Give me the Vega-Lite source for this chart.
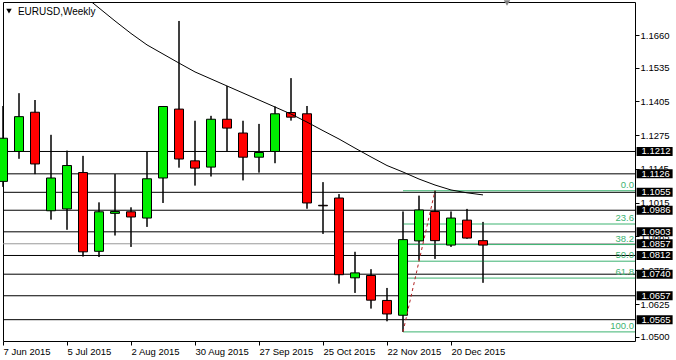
{
  "$schema": "https://vega.github.io/schema/vega-lite/v6.json",
  "width": 632,
  "height": 339,
  "autosize": "none",
  "padding": {"left": 3, "top": 2, "right": 41, "bottom": 19},
  "background": "white",
  "datasets": {
    "candles": [
      {"date": "2015-06-07", "open": 1.1097, "high": 1.1387, "low": 1.1076, "close": 1.1263},
      {"date": "2015-06-14", "open": 1.1212, "high": 1.1436, "low": 1.1184, "close": 1.1346},
      {"date": "2015-06-21", "open": 1.1363, "high": 1.1410, "low": 1.1125, "close": 1.1164},
      {"date": "2015-06-28", "open": 1.0984, "high": 1.1276, "low": 1.0950, "close": 1.1110},
      {"date": "2015-07-05", "open": 1.0991, "high": 1.1215, "low": 1.0911, "close": 1.1158},
      {"date": "2015-07-12", "open": 1.1131, "high": 1.1195, "low": 1.0808, "close": 1.0826},
      {"date": "2015-07-19", "open": 1.0828, "high": 1.1016, "low": 1.0806, "close": 1.0980},
      {"date": "2015-07-26", "open": 1.0974, "high": 1.1125, "low": 1.0889, "close": 1.0981},
      {"date": "2015-08-02", "open": 1.0980, "high": 1.0997, "low": 1.0845, "close": 1.0960},
      {"date": "2015-08-09", "open": 1.0956, "high": 1.1210, "low": 1.0922, "close": 1.1107},
      {"date": "2015-08-16", "open": 1.1110, "high": 1.1387, "low": 1.1014, "close": 1.1385},
      {"date": "2015-08-23", "open": 1.1375, "high": 1.1714, "low": 1.1150, "close": 1.1183},
      {"date": "2015-08-30", "open": 1.1176, "high": 1.1330, "low": 1.1081, "close": 1.1148},
      {"date": "2015-09-06", "open": 1.1152, "high": 1.1349, "low": 1.1116, "close": 1.1336},
      {"date": "2015-09-13", "open": 1.1336, "high": 1.1464, "low": 1.1212, "close": 1.1302},
      {"date": "2015-09-20", "open": 1.1283, "high": 1.1330, "low": 1.1101, "close": 1.1190},
      {"date": "2015-09-27", "open": 1.1190, "high": 1.1318, "low": 1.1131, "close": 1.1208},
      {"date": "2015-10-04", "open": 1.1212, "high": 1.1385, "low": 1.1167, "close": 1.1357},
      {"date": "2015-10-11", "open": 1.1362, "high": 1.1494, "low": 1.1331, "close": 1.1344},
      {"date": "2015-10-18", "open": 1.1357, "high": 1.1387, "low": 1.0992, "close": 1.1014},
      {"date": "2015-10-25", "open": 1.1005, "high": 1.1094, "low": 1.0895, "close": 1.1003},
      {"date": "2015-11-01", "open": 1.1033, "high": 1.1048, "low": 1.0704, "close": 1.0738},
      {"date": "2015-11-08", "open": 1.0726, "high": 1.0826, "low": 1.0668, "close": 1.0745},
      {"date": "2015-11-15", "open": 1.0735, "high": 1.0759, "low": 1.0608, "close": 1.0640},
      {"date": "2015-11-22", "open": 1.0639, "high": 1.0687, "low": 1.0559, "close": 1.0587},
      {"date": "2015-11-29", "open": 1.0582, "high": 1.0981, "low": 1.0518, "close": 1.0873},
      {"date": "2015-12-06", "open": 1.0868, "high": 1.1042, "low": 1.0793, "close": 1.0987},
      {"date": "2015-12-13", "open": 1.0981, "high": 1.1061, "low": 1.0799, "close": 1.0869},
      {"date": "2015-12-20", "open": 1.0852, "high": 1.0981, "low": 1.0845, "close": 1.0956},
      {"date": "2015-12-27", "open": 1.0948, "high": 1.0991, "low": 1.0876, "close": 1.0879},
      {"date": "2016-01-03", "open": 1.0869, "high": 1.0941, "low": 1.0707, "close": 1.0852}
    ],
    "ma": [
      {"date": "2015-07-05", "ma": 1.1862},
      {"date": "2015-07-12", "ma": 1.1814},
      {"date": "2015-07-19", "ma": 1.1764},
      {"date": "2015-07-26", "ma": 1.1714},
      {"date": "2015-08-02", "ma": 1.1666},
      {"date": "2015-08-09", "ma": 1.1622},
      {"date": "2015-08-16", "ma": 1.1587},
      {"date": "2015-08-23", "ma": 1.1552},
      {"date": "2015-08-30", "ma": 1.1518},
      {"date": "2015-09-06", "ma": 1.1491},
      {"date": "2015-09-13", "ma": 1.1464},
      {"date": "2015-09-20", "ma": 1.1437},
      {"date": "2015-09-27", "ma": 1.1410},
      {"date": "2015-10-04", "ma": 1.1383},
      {"date": "2015-10-11", "ma": 1.1356},
      {"date": "2015-10-18", "ma": 1.1325},
      {"date": "2015-10-25", "ma": 1.1292},
      {"date": "2015-11-01", "ma": 1.1260},
      {"date": "2015-11-08", "ma": 1.1225},
      {"date": "2015-11-15", "ma": 1.1191},
      {"date": "2015-11-22", "ma": 1.1158},
      {"date": "2015-11-29", "ma": 1.1133},
      {"date": "2015-12-06", "ma": 1.1106},
      {"date": "2015-12-13", "ma": 1.1083},
      {"date": "2015-12-20", "ma": 1.1064},
      {"date": "2015-12-27", "ma": 1.1053},
      {"date": "2016-01-03", "ma": 1.1045}
    ],
    "levels": [
      {"level": 1.1212}, {"level": 1.1126}, {"level": 1.1055}, {"level": 1.0986}, {"level": 1.0903},
      {"level": 1.0812}, {"level": 1.0740}, {"level": 1.0657}, {"level": 1.0565}
    ],
    "bid": [{"level": 1.0857}],
    "boxes": [
      {"level": 1.1212}, {"level": 1.1126}, {"level": 1.1055}, {"level": 1.0986}, {"level": 1.0903},
      {"level": 1.0857}, {"level": 1.0812}, {"level": 1.0740}, {"level": 1.0657}, {"level": 1.0565}
    ],
    "fib": [
      {"label": "0.0", "value": 1.1061, "start": "2015-11-29"},
      {"label": "23.6", "value": 1.0933, "start": "2015-11-29"},
      {"label": "38.2", "value": 1.0854, "start": "2015-11-29"},
      {"label": "50.0", "value": 1.0790, "start": "2015-11-29"},
      {"label": "61.8", "value": 1.0725, "start": "2015-11-29"},
      {"label": "100.0", "value": 1.0518, "start": "2015-11-29"}
    ],
    "trend": [
      {"date": "2015-11-29", "price": 1.0518},
      {"date": "2015-12-13", "price": 1.1061}
    ],
    "caption": [{"text": "EURUSD,Weekly"}]
  },
  "layer": [
    {
      "data": {"name": "candles"},
      "mark": {"type": "rule", "color": "black", "strokeWidth": 1},
      "encoding": {
        "x": {
          "field": "date", "type": "temporal",
          "scale": {"type": "utc", "padding": 0, "nice": false, "domain": [{"year": 2015, "month": 6, "date": 7, "utc": true}, {"year": 2016, "month": 3, "date": 9, "hours": 12, "utc": true}]},
          "axis": {
            "title": null, "format": "%-d %b %Y", "orient": "bottom", "tickCount": 40,
            "values": [
              {"year": 2015, "month": 6, "date": 7, "utc": true},
              {"year": 2015, "month": 7, "date": 5, "utc": true},
              {"year": 2015, "month": 8, "date": 2, "utc": true},
              {"year": 2015, "month": 8, "date": 30, "utc": true},
              {"year": 2015, "month": 9, "date": 27, "utc": true},
              {"year": 2015, "month": 10, "date": 25, "utc": true},
              {"year": 2015, "month": 11, "date": 22, "utc": true},
              {"year": 2015, "month": 12, "date": 20, "utc": true}
            ],
            "labelAlign": "left", "labelBaseline": "top", "labelPadding": 1, "tickSize": 4,
            "tickColor": "black", "domain": false, "grid": false, "labelFontSize": 9.5,
            "labelColor": "black", "labelFont": "Liberation Sans", "labelOverlap": false, "labelFlush": false
          }
        },
        "y": {
          "field": "low", "type": "quantitative",
          "scale": {"domain": [1.0483, 1.1787], "zero": false, "nice": false, "padding": 0},
          "axis": {
            "orient": "right", "title": null, "tickCount": 40,
            "values": [1.166, 1.1535, 1.1405, 1.1275, 1.1145, 1.1015, 1.0885, 1.0755, 1.0625, 1.05],
            "format": ".4f", "tickSize": 4, "tickColor": "black", "labelPadding": 1,
            "domain": false, "grid": false, "labelFontSize": 9.5, "labelColor": "black",
            "labelFont": "Liberation Sans", "labelOverlap": false, "labelFlush": false, "labelBound": false
          }
        },
        "y2": {"field": "high"}
      }
    },
    {
      "data": {"name": "levels"},
      "mark": {"type": "rule", "color": "black", "strokeWidth": 1},
      "encoding": {
        "y": {"field": "level", "type": "quantitative", "axis": {"title": null, "labelOverlap": false}}
      }
    },
    {
      "data": {"name": "bid"},
      "mark": {"type": "rule", "color": "#999999", "strokeWidth": 1},
      "encoding": {"y": {"field": "level", "type": "quantitative", "axis": {"title": null, "labelOverlap": false}}}
    },
    {
      "data": {"name": "fib"},
      "mark": {"type": "rule", "color": "#3cb371", "strokeWidth": 1},
      "encoding": {
        "x": {"field": "start", "type": "temporal", "scale": {"type": "utc"}, "axis": {"title": null, "labelOverlap": false}},
        "x2": {"datum": {"year": 2016, "month": 3, "date": 9, "hours": 12, "utc": true}},
        "y": {"field": "value", "type": "quantitative", "axis": {"title": null, "labelOverlap": false}}
      }
    },
    {
      "data": {"name": "fib"},
      "mark": {"type": "text", "color": "#3cb371", "align": "right", "baseline": "alphabetic", "dx": -1, "dy": -3, "fontSize": 9.5, "font": "Liberation Sans"},
      "encoding": {
        "x": {"datum": {"year": 2016, "month": 3, "date": 9, "hours": 12, "utc": true}, "type": "temporal", "scale": {"type": "utc"}, "axis": {"title": null, "labelOverlap": false}},
        "y": {"field": "value", "type": "quantitative", "axis": {"title": null, "labelOverlap": false}},
        "text": {"field": "label"}
      }
    },
    {
      "data": {"name": "candles"},
      "mark": {"type": "rule", "color": "black", "strokeWidth": 1},
      "encoding": {
        "x": {"field": "date", "type": "temporal", "scale": {"type": "utc"}, "axis": {"title": null, "labelOverlap": false}},
        "y": {"field": "low", "type": "quantitative", "axis": {"title": null, "labelOverlap": false}},
        "y2": {"field": "high"}
      }
    },
    {
      "data": {"name": "candles"},
      "mark": {"type": "bar", "width": 9, "stroke": "black", "strokeWidth": 1},
      "encoding": {
        "x": {"field": "date", "type": "temporal", "scale": {"type": "utc"}, "axis": {"title": null, "labelOverlap": false}},
        "y": {"field": "open", "type": "quantitative", "axis": {"title": null, "labelOverlap": false}},
        "y2": {"field": "close"},
        "fill": {"condition": {"test": "datum.close > datum.open", "value": "#00ee00"}, "value": "#ff0000"}
      }
    },
    {
      "data": {"name": "ma"},
      "mark": {"type": "line", "color": "black", "strokeWidth": 1, "clip": true},
      "encoding": {
        "x": {"field": "date", "type": "temporal", "scale": {"type": "utc"}, "axis": {"title": null, "labelOverlap": false}},
        "y": {"field": "ma", "type": "quantitative", "axis": {"title": null, "labelOverlap": false}}
      }
    },
    {
      "data": {"name": "trend"},
      "mark": {"type": "line", "color": "#b22222", "strokeWidth": 1, "strokeDash": [3, 3]},
      "encoding": {
        "x": {"field": "date", "type": "temporal", "scale": {"type": "utc"}, "axis": {"title": null, "labelOverlap": false}},
        "y": {"field": "price", "type": "quantitative", "axis": {"title": null, "labelOverlap": false}}
      }
    },
    {
      "data": {"name": "boxes"},
      "mark": {"type": "tick", "orient": "horizontal", "size": 36, "thickness": 9, "color": "black", "opacity": 1},
      "encoding": {
        "x": {"datum": {"year": 2016, "month": 3, "date": 18, "hours": 2, "utc": true}, "type": "temporal", "scale": {"type": "utc"}, "axis": {"title": null, "labelOverlap": false}},
        "y": {"field": "level", "type": "quantitative", "axis": {"title": null, "labelOverlap": false}}
      }
    },
    {
      "data": {"name": "boxes"},
      "mark": {"type": "text", "color": "white", "align": "left", "baseline": "middle", "fontSize": 9.5, "font": "Liberation Sans"},
      "encoding": {
        "x": {"datum": {"year": 2016, "month": 3, "date": 12, "hours": 8, "utc": true}, "type": "temporal", "scale": {"type": "utc"}, "axis": {"title": null, "labelOverlap": false}},
        "y": {"field": "level", "type": "quantitative", "axis": {"title": null, "labelOverlap": false}},
        "text": {"field": "level", "type": "quantitative", "format": ".4f"}
      }
    },
    {
      "data": {"name": "caption"},
      "mark": {"type": "text", "color": "black", "align": "left", "baseline": "alphabetic", "fontSize": 10, "font": "Liberation Sans"},
      "encoding": {
        "x": {"datum": {"year": 2015, "month": 6, "date": 13, "hours": 13, "utc": true}, "type": "temporal", "scale": {"type": "utc"}, "axis": {"title": null, "labelOverlap": false}},
        "y": {"datum": 1.1737, "type": "quantitative", "axis": {"title": null, "labelOverlap": false}},
        "text": {"field": "text"}
      }
    },
    {
      "data": {"name": "caption"},
      "mark": {"type": "point", "shape": "triangle-down", "filled": true, "color": "black", "size": 30, "opacity": 1},
      "encoding": {
        "x": {"datum": {"year": 2015, "month": 6, "date": 9, "hours": 15, "utc": true}, "type": "temporal", "scale": {"type": "utc"}, "axis": {"title": null, "labelOverlap": false}},
        "y": {"datum": 1.1752, "type": "quantitative", "axis": {"title": null, "labelOverlap": false}}
      }
    },
    {
      "data": {"name": "caption"},
      "mark": {"type": "point", "shape": "triangle-down", "filled": true, "color": "#808080", "size": 40, "opacity": 1},
      "encoding": {
        "x": {"datum": {"year": 2016, "month": 1, "date": 13, "hours": 12, "utc": true}, "type": "temporal", "scale": {"type": "utc"}, "axis": {"title": null, "labelOverlap": false}},
        "y": {"datum": 1.1783, "type": "quantitative", "axis": {"title": null, "labelOverlap": false}}
      }
    }
  ],
  "config": {
    "view": {"stroke": "black", "strokeWidth": 1},
    "font": "Liberation Sans",
    "axis": {"grid": false, "domain": false, "labelOverlap": false}
  }
}
